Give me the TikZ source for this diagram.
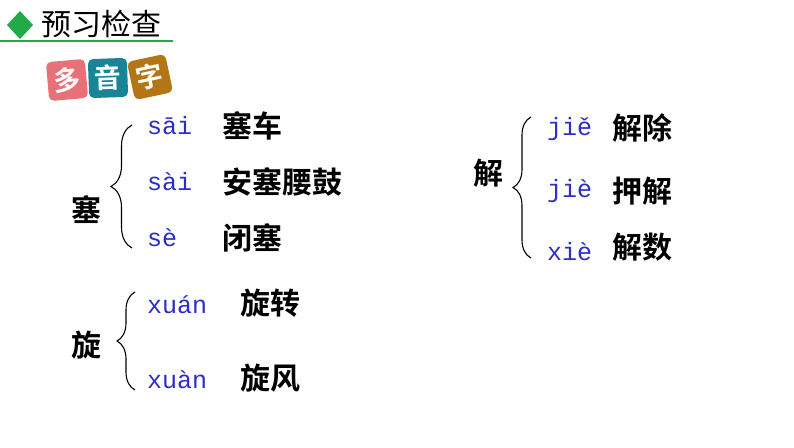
\documentclass[tikz,border=0pt]{standalone}
\usepackage{fontspec}
\usetikzlibrary{decorations.pathreplacing}
\newfontfamily\cjk{Noto Sans CJK SC}
\newfontfamily\cjkb{Noto Sans CJK SC}[BoldFont={Noto Sans CJK SC Bold}]
\newfontfamily\pyfont{Liberation Mono}
\definecolor{hgreen}{RGB}{34,170,70}
\definecolor{tpink}{RGB}{232,112,120}
\definecolor{tteal}{RGB}{24,132,150}
\definecolor{tgold}{RGB}{180,118,20}
\definecolor{pyblue}{RGB}{45,45,200}
\begin{document}
\begin{tikzpicture}[x=1pt,y=-1pt,
  head/.style={font=\cjk\fontsize{30}{30}\selectfont,anchor=west,inner sep=0pt},
  tile/.style={rounded corners=5pt,minimum size=39pt,inner sep=0pt,text=white,font=\cjkb\bfseries\fontsize{27}{27}\selectfont},
  big/.style={font=\cjkb\bfseries\fontsize{30}{30}\selectfont,inner sep=0pt},
  word/.style={font=\cjkb\bfseries\fontsize{30}{30}\selectfont,anchor=west,inner sep=0pt},
  py/.style={font=\pyfont\fontsize{25}{25}\selectfont,text=pyblue,anchor=west,inner sep=0pt},
  br/.style={decorate,decoration={brace,amplitude=#1},line width=1.1pt}]
\useasboundingbox (0,0) rectangle (794,447);
% header
\fill[hgreen] (20,11) coordinate (d1) -- (33,25) -- (20,39) -- (7,25) -- cycle;
\node[head] (title) at (41,24) {预习检查};
\draw[hgreen,line width=2pt] (0,41) -- (173,41);
% tiles
\node[tile,fill=tpink,rotate=5] (t1) at (67,80) {多};
\node[tile,fill=tteal,rotate=2] (t2) at (108,78) {音};
\node[tile,fill=tgold,rotate=12] (t3) at (150,77) {字};
% group sai
\node[big] (sai) at (86,210) {塞};
\coordinate (sb) at (132,248); \coordinate (st) at (132,125);
\draw[br=21pt] (sb) -- (st);
\node[py] (p1) at (147,126) {sāi};
\node[py] (p2) at (147,182) {sài};
\node[py] (p3) at (147,238) {sè};
\node[word] (w1) at (222,126) {塞车};
\node[word] (w2) at (222,182) {安塞腰鼓};
\node[word] (w3) at (222,238) {闭塞};
% group jie
\node[big] (jie) at (488,173) {解};
\coordinate (jb) at (531,258); \coordinate (jt) at (531,117);
\draw[br=18pt] (jb) -- (jt);
\node[py] (q1) at (547,129) {jiě};
\node[py] (q2) at (547,191) {jiè};
\node[py] (q3) at (547,252) {xiè};
\node[word] (v1) at (612,128) {解除};
\node[word] (v2) at (612,191) {押解};
\node[word] (v3) at (612,247) {解数};
% group xuan
\node[big] (xuan) at (86,345) {旋};
\coordinate (xb) at (135,390); \coordinate (xt) at (135,292);
\draw[br=18pt] (xb) -- (xt);
\node[py] (r1) at (147,305) {xuán};
\node[py] (r2) at (147,380) {xuàn};
\node[word] (u1) at (240,303) {旋转};
\node[word] (u2) at (240,378) {旋风};
\end{tikzpicture}
\end{document}
